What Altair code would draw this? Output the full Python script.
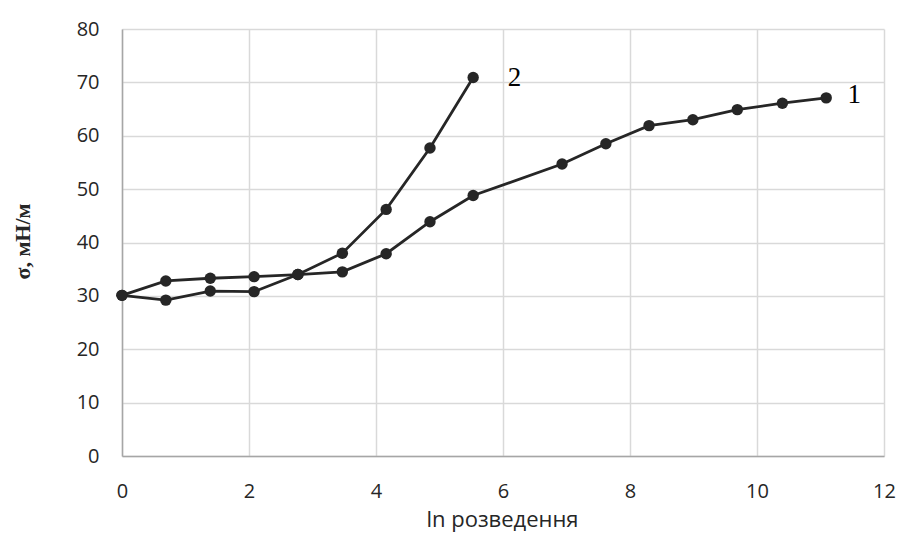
import altair as alt
import pandas as pd

# Series 1 (curve labelled "1")
x1 = [0.0, 0.69, 1.39, 2.08, 2.77, 3.47, 4.16, 4.85, 5.53, 6.93, 7.62, 8.30, 8.99, 9.69, 10.40, 11.09]
y1 = [30.1, 32.8, 33.3, 33.6, 34.0, 34.5, 37.9, 43.9, 48.8, 54.7, 58.5, 61.9, 63.0, 64.9, 66.1, 67.1]
# Series 2 (curve labelled "2")
x2 = [0.0, 0.69, 1.39, 2.08, 2.77, 3.47, 4.16, 4.85, 5.53]
y2 = [30.1, 29.2, 30.9, 30.8, 34.0, 38.0, 46.2, 57.7, 70.9]

# curve labels
label_text = ["2", "1"]
label_x = [6.18, 11.53]
label_y = [70.9, 67.7]

x_ticks = [0, 2, 4, 6, 8, 10, 12]
y_ticks = [0, 10, 20, 30, 40, 50, 60, 70, 80]

df = pd.concat([
    pd.DataFrame({"x": x1, "y": y1, "s": "1", "o": range(len(x1))}),
    pd.DataFrame({"x": x2, "y": y2, "s": "2", "o": range(len(x2))}),
])
lab = pd.DataFrame({"x": label_x, "y": label_y, "t": label_text})

ink = "#262626"

xs = alt.X("x:Q", scale=alt.Scale(domain=[0, 12], nice=False),
           axis=alt.Axis(values=x_ticks, format="d", title="ln розведення", grid=True,
                         ticks=False, tickSize=0, labelPadding=25, labelFlush=False,
                         labelFontSize=20, labelFont="Open Sans", labelColor=ink,
                         titleFont="Open Sans", titleFontSize=22, titleFontWeight="normal",
                         titleColor=ink, titleBaseline="alphabetic", titleY=70,
                         titleX=380))
ys = alt.Y("y:Q", scale=alt.Scale(domain=[0, 80], nice=False),
           axis=alt.Axis(values=y_ticks, format="d", title="σ, мН/м", grid=True,
                         ticks=False, tickSize=0, labelPadding=23, labelFlush=False,
                         labelFontSize=20, labelFont="Open Sans", labelColor=ink,
                         titleFont="Liberation Serif", titleFontSize=22,
                         titleFontWeight="bold", titleColor=ink,
                         titleAngle=270, titleBaseline="alphabetic",
                         titleAlign="center", titleX=-93, titleY=212))

lines = alt.Chart(df).mark_line(color=ink, strokeWidth=2.8).encode(
    x=xs, y=ys, detail="s:N", order="o:Q")
pts = alt.Chart(df).mark_point(filled=True, color=ink, size=130, opacity=1).encode(
    x="x:Q", y="y:Q")
texts = alt.Chart(lab).mark_text(font="Liberation Serif", fontSize=27, color="#000000",
                                 baseline="middle", align="center").encode(
    x="x:Q", y="y:Q", text="t:N")

chart = alt.layer(lines, pts, texts).properties(
    width=762, height=427,
    autosize=alt.AutoSizeParams(type="none"),
    padding={"left": 114, "top": 21, "right": 12, "bottom": 77},
).configure_axis(
    gridColor="#d9d9d9", gridWidth=1.5,
    domainColor="#a6a6a6", domainWidth=1.5,
).configure_view(stroke=None)

chart.save("out.html", embed_options={"renderer": "svg", "actions": False})
